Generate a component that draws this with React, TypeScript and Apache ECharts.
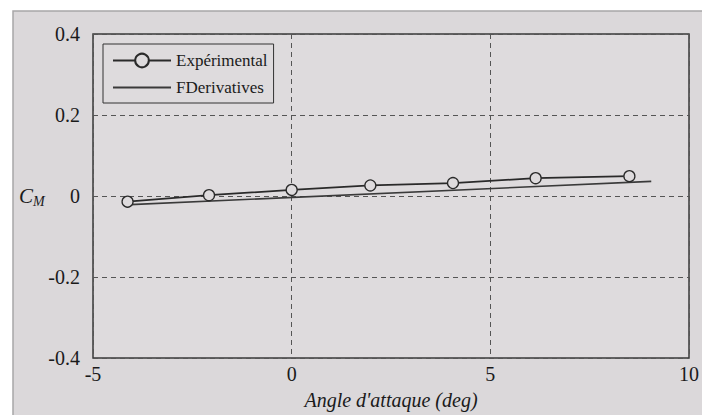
import React, { useEffect, useRef } from "react";
import * as echarts from "echarts";

const expAlpha = [-4.13, -2.08, 0, 1.98, 4.06, 6.14, 8.5];
const expCm = [-0.014, 0.002, 0.015, 0.026, 0.032, 0.044, 0.049];
const fdAlpha = [-4.2, 9.05];
const fdCm = [-0.022, 0.036];
const xTicks = [-5, 0, 5, 10];
const yTicks = [-0.4, -0.2, 0, 0.2, 0.4];

const SERIF = "'Liberation Serif', 'DejaVu Serif', serif";
const BG = "#dbd8da";

export default function App() {
  const ref = useRef<HTMLDivElement>(null);
  useEffect(() => {
    document.body.style.margin = "0";
    const chart = echarts.init(ref.current!, null, { renderer: "svg" });
    chart.setOption({
      animation: false,
      backgroundColor: "#ffffff",
      textStyle: { fontFamily: SERIF },
      graphic: [
        {
          type: "rect",
          z: -10,
          silent: true,
          shape: { x: 13, y: 11, width: 700, height: 420 },
          style: { fill: BG, stroke: "#a8a6a8", lineWidth: 1.5 },
        },
        {
          type: "text",
          left: 19,
          top: 185,
          style: {
            text: "{c|C}{m|M}",
            rich: {
              c: { fontFamily: SERIF, fontStyle: "italic", fontSize: 21, fill: "#1a1a1a" },
              m: { fontFamily: SERIF, fontStyle: "italic", fontSize: 14, fill: "#1a1a1a", padding: [11, 0, 0, 0] },
            },
          },
        },
      ],
      grid: {
        left: 93,
        right: 7,
        top: 34,
        bottom: 53,
        show: true,
        backgroundColor: "#dedbdd",
        borderColor: "#3a3a3a",
        borderWidth: 1.5,
      },
      legend: {
        orient: "vertical",
        left: 103,
        top: 44,
        padding: [8, 6, 7, 9],
        itemGap: 10,
        itemWidth: 58,
        itemHeight: 17,
        borderColor: "#333",
        borderWidth: 1,
        textStyle: { fontFamily: SERIF, fontSize: 17, color: "#1a1a1a" },
        data: [
          { name: "Expérimental" },
          { name: "FDerivatives", icon: "line", itemStyle: { borderColor: "#3a3a3a", borderWidth: 2 } },
        ],
      },
      xAxis: {
        type: "value",
        min: -5,
        max: 10,
        interval: 5,
        name: "Angle d'attaque (deg)",
        nameLocation: "middle",
        nameGap: 32,
        nameTextStyle: { fontFamily: SERIF, fontStyle: "italic", fontSize: 20, color: "#1a1a1a" },
        axisLine: { show: false },
        axisTick: { show: false },
        axisLabel: {
          fontFamily: SERIF,
          fontSize: 20,
          color: "#1a1a1a",
          margin: 6,
          formatter: (v: number) => (xTicks.includes(v) ? String(v) : ""),
        },
        splitLine: { show: true, lineStyle: { color: "#555", type: [5, 4], width: 1 } },
      },
      yAxis: {
        type: "value",
        min: -0.4,
        max: 0.4,
        interval: 0.2,
        axisLine: { show: false },
        axisTick: { show: false },
        axisLabel: {
          fontFamily: SERIF,
          fontSize: 20,
          color: "#1a1a1a",
          margin: 13,
          formatter: (v: number) => {
            const t = yTicks.find((y) => Math.abs(y - v) < 1e-9);
            if (t === undefined) return "";
            return Math.abs(t) < 1e-9 ? "0" : String(t);
          },
        },
        splitLine: { show: true, lineStyle: { color: "#555", type: [5, 4], width: 1 } },
      },
      series: [
        {
          name: "Expérimental",
          type: "line",
          data: expAlpha.map((a, i) => [a, expCm[i]]),
          symbol: "circle",
          symbolSize: 11,
          z: 3,
          lineStyle: { color: "#2a2a2a", width: 1.8 },
          itemStyle: { color: "#dedbdd", borderColor: "#2a2a2a", borderWidth: 1.3 },
        },
        {
          name: "FDerivatives",
          type: "line",
          data: fdAlpha.map((a, i) => [a, fdCm[i]]),
          symbol: "none",
          showSymbol: false,
          z: 2,
          lineStyle: { color: "#3a3a3a", width: 1.6 },
          itemStyle: { color: "#3a3a3a" },
        },
      ],
    });
    return () => chart.dispose();
  }, []);
  return <div ref={ref} style={{ width: 702, height: 415 }} />;
}
